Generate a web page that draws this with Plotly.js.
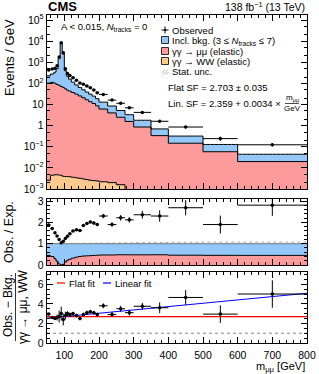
<!DOCTYPE html>
<html><head><meta charset="utf-8">
<script src="https://cdn.plot.ly/plotly-3.0.1.min.js"></script>
<style>html,body{margin:0;padding:0;background:#fff}#plot{width:319px;height:374px}</style>
</head><body><div id="plot"></div>
<script>
// ---- data ----
const binEdges = [50,60,70,76,82,88,94,100,106,112,120,130,140,150,160,170,180,190,200,225,250,275,300,350,400,500,600,800];
const observed = [432,482,517,680,1800,8320,2800,500,297,235,184,140,104,92.5,76,62.6,49,36,30,16.2,11.5,7.0,4.25,1.61,0.86,0.243,0.124];
const observedErr = [6.5,7,8,10,18,42,28,7.5,6,4.7,3.7,3.5,2.6,2.8,2.3,2.2,1.7,1.4,1.5,0.8,0.7,0.42,0.34,0.19,0.11,0.054,0.022];
const inclBkg = [127,168,238,410,1418,7928,2435,344,172,117,78,54,38.4,29,22.2,17.4,13.8,10.3,6.9,4.5,2.7,1.72,0.94,0.364,0.173,0.070,0.0242];
const elasticMuMu = [103,112,102,90,82,72,65,56,48,43,37,31,25.6,21,16.8,13.6,11.2,8.7,6.1,4.0,2.5,1.58,0.86,0.336,0.147,0.058,0.0198];
const elasticWW = [0.0026,0.0045,0.0047,0.0047,0.0046,0.0045,0.0040,0.0039,0.0039,0.0038,0.0036,0.0034,0.0032,0.0030,0.0028,0.0026,0.0025,0.0024,0.0022,0.0020,0.0016,0.0009,0.0006,0.0004,0.0003,0.0002,0.0001];
const statUncRel = [0.01,0.01,0.01,0.01,0.01,0.005,0.01,0.01,0.01,0.012,0.012,0.015,0.015,0.02,0.02,0.02,0.025,0.025,0.03,0.03,0.035,0.04,0.05,0.06,0.07,0.08,0.08];
const ratioObsExp = [1.88,1.72,1.52,1.36,1.2,1.04,1.12,1.25,1.35,1.47,1.6,1.65,1.62,1.85,1.95,2.02,1.97,1.9,2.3,1.9,2.22,2.12,2.36,2.3,2.69,1.9,2.81];
const ratioErr = [0.03,0.03,0.03,0.03,0.03,0.02,0.03,0.03,0.04,0.04,0.04,0.05,0.05,0.06,0.06,0.07,0.07,0.07,0.1,0.1,0.13,0.13,0.18,0.27,0.36,0.42,0.5];
const sfValues = [2.95,2.6,2.5,2.6,2.7,3.0,2.4,2.8,3.0,2.9,3.0,2.8,2.5,2.9,3.1,3.2,3.1,2.9,3.8,2.9,3.5,3.1,3.75,3.6,4.65,2.95,5.0];
const sfErr = [0.12,0.12,0.15,0.3,0.6,0.7,0.6,0.4,0.25,0.2,0.18,0.18,0.18,0.2,0.2,0.2,0.2,0.2,0.25,0.25,0.3,0.3,0.35,0.55,0.75,0.9,1.4];
const flatFitSF = [2.703];
const linearFitSF = [2.359, 0.0034];
const logTickVals = [1e-3,1e-2,1e-1,1,10,100,1e3,1e4,1e5];
const logTickText = ['10<sup>−3</sup>','10<sup>−2</sup>','10<sup>−1</sup>','1','10','10<sup>2</sup>','10<sup>3</sup>','10<sup>4</sup>','10<sup>5</sup>'];

// ---- derived ----
const centers = binEdges.slice(0,-1).map((e,i)=>(e+binEdges[i+1])/2);
const halfW = binEdges.slice(0,-1).map((e,i)=>(binEdges[i+1]-e)/2);
const stWW = elasticWW.slice();
const stSig = elasticWW.map((v,i)=>v+elasticMuMu[i]);
const stTot = stSig.map((v,i)=>v+inclBkg[i]);
const redFrac = stSig.map((v,i)=>v/stTot[i]);
const stepY = v => v.concat([v[v.length-1]]);
const ones = binEdges.map(()=>1);

const BLUE='#94c8fa', RED='#fd9a9b', ORANGE='#fdca8e';
const FONT='Liberation Sans, Arial, sans-serif';

// pixel helpers
const L=47,R=307,T=15,B=343;
const fx = p => (p-L)/(R-L);
const fy = p => (B-p)/(B-T);

const traces = [];
// top panel
traces.push({x:binEdges, y:binEdges.map(()=>1e-5), xaxis:'x3', yaxis:'y3', mode:'lines', line:{width:0,shape:'hv'}, hoverinfo:'skip', showlegend:false});
traces.push({x:binEdges, y:stepY(stWW), xaxis:'x3', yaxis:'y3', mode:'lines', fill:'tonexty', fillcolor:ORANGE, line:{color:'#000',width:1,shape:'hv'}, showlegend:false});
traces.push({x:binEdges, y:stepY(stSig), xaxis:'x3', yaxis:'y3', mode:'lines', fill:'tonexty', fillcolor:RED, line:{color:'#000',width:1,shape:'hv'}, showlegend:false});
traces.push({x:binEdges, y:stepY(stTot), xaxis:'x3', yaxis:'y3', mode:'lines', fill:'tonexty', fillcolor:BLUE, line:{color:'#000',width:1,shape:'hv'}, showlegend:false});
traces.push({x:binEdges, y:stepY(stTot.map((v,i)=>v*(1-statUncRel[i]))), xaxis:'x3', yaxis:'y3', mode:'lines', line:{width:0,shape:'hv'}, showlegend:false});
traces.push({x:binEdges, y:stepY(stTot.map((v,i)=>v*(1+statUncRel[i]))), xaxis:'x3', yaxis:'y3', mode:'lines', fill:'tonexty', fillcolor:'rgba(0,0,0,0)', fillpattern:{shape:'/',fgcolor:'#888',size:3,solidity:0.2}, line:{width:0,shape:'hv'}, showlegend:false});
traces.push({x:centers, y:observed, xaxis:'x3', yaxis:'y3', mode:'markers', marker:{color:'#000',size:3.5},
  error_y:{type:'data',array:observedErr,color:'#000',thickness:1,width:0},
  error_x:{type:'data',array:halfW,color:'#000',thickness:1,width:0}, showlegend:false});

// middle panel
traces.push({x:binEdges, y:stepY(redFrac), xaxis:'x2', yaxis:'y2', mode:'lines', fill:'tozeroy', fillcolor:RED, line:{color:'#000',width:1,shape:'hv'}, showlegend:false});
traces.push({x:binEdges, y:ones, xaxis:'x2', yaxis:'y2', mode:'lines', fill:'tonexty', fillcolor:BLUE, line:{color:'#555',width:0.8,shape:'hv'}, showlegend:false});
traces.push({x:binEdges, y:stepY(statUncRel.map(u=>1+u)), xaxis:'x2', yaxis:'y2', mode:'lines', line:{color:'#888',width:0.7,dash:'dot',shape:'hv'}, showlegend:false});
traces.push({x:centers, y:ratioObsExp, xaxis:'x2', yaxis:'y2', mode:'markers', marker:{color:'#000',size:3.5},
  error_y:{type:'data',array:ratioErr,color:'#000',thickness:1,width:0},
  error_x:{type:'data',array:halfW,color:'#000',thickness:1,width:0}, showlegend:false});

// bottom panel
const xr = [binEdges[0], binEdges[binEdges.length-1]];
traces.push({x:xr, y:[1,1], xaxis:'x', yaxis:'y', mode:'lines', line:{color:'#666',width:0.8,dash:'dot'}, showlegend:false});
traces.push({x:xr, y:[flatFitSF[0],flatFitSF[0]], xaxis:'x', yaxis:'y', mode:'lines', line:{color:'#ff0000',width:1.2}, showlegend:false});
traces.push({x:xr, y:xr.map(m=>linearFitSF[0]+linearFitSF[1]*m), xaxis:'x', yaxis:'y', mode:'lines', line:{color:'#0000ff',width:1.2}, showlegend:false});
traces.push({x:centers, y:sfValues, xaxis:'x', yaxis:'y', mode:'markers', marker:{color:'#000',size:3.5},
  error_y:{type:'data',array:sfErr,color:'#000',thickness:1,width:0},
  error_x:{type:'data',array:halfW,color:'#000',thickness:1,width:0}, showlegend:false});

const axCommon = {showline:true, linecolor:'#000', linewidth:1.2, mirror:'allticks', ticks:'inside', ticklen:6, tickcolor:'#000', showgrid:false, zeroline:false,
  tickfont:{family:FONT,size:10.5,color:'#000'}};
const xCommon = Object.assign({}, axCommon, {range:[50,800], tickvals:[100,200,300,400,500,600,700,800], minor:{ticks:'inside',ticklen:3,dtick:20,tick0:0,tickcolor:'#000'}});

const layout = {
  width:319, height:374, paper_bgcolor:'#fff', plot_bgcolor:'#fff',
  margin:{l:L, r:319-R, t:T, b:374-B}, showlegend:false,
  font:{family:FONT, color:'#000'},
  xaxis: Object.assign({}, xCommon, {anchor:'y', ticklabelstandoff:2}),
  xaxis2: Object.assign({}, xCommon, {anchor:'y2', matches:'x', showticklabels:false}),
  xaxis3: Object.assign({}, xCommon, {anchor:'y3', matches:'x', showticklabels:false}),
  yaxis: Object.assign({}, axCommon, {domain:[0, fy(272)], range:[0,7.25], tickvals:[0,2,4,6], minor:{ticks:'inside',ticklen:3,dtick:0.5,tickcolor:'#000'}}),
  yaxis2: Object.assign({}, axCommon, {domain:[fy(265), fy(199)], range:[0,3.1], tickvals:[0,1,2,3], minor:{ticks:'inside',ticklen:3,dtick:0.2,tickcolor:'#000'}}),
  yaxis3: Object.assign({}, axCommon, {domain:[fy(189), 1], type:'log', range:[-3,5.24], tickvals:logTickVals, ticktext:logTickText, minor:{ticks:'inside',ticklen:3,tickcolor:'#000'}}),
  shapes:[], annotations:[]
};

function ann(text, xp, yp, opts){
  layout.annotations.push(Object.assign({text:text, xref:'paper', yref:'paper', x:fx(xp), y:fy(yp), showarrow:false, xanchor:'left', yanchor:'middle', font:{family:FONT,size:9.5,color:'#000'}}, opts||{}));
}
function rect(x0,y0,x1,y1,fill){
  layout.shapes.push({type:'rect', xref:'paper', yref:'paper', x0:fx(x0), x1:fx(x1), y0:fy(y1), y1:fy(y0), fillcolor:fill, line:{color:'#000',width:0.8}});
}
function seg(x0,y0,x1,y1,color,w){
  layout.shapes.push({type:'line', xref:'paper', yref:'paper', x0:fx(x0), x1:fx(x1), y0:fy(y0), y1:fy(y1), line:{color:color,width:w}});
}

// header
ann('<b>CMS</b>', 46, 6, {font:{family:FONT,size:13,color:'#000'}});
ann('138 fb<sup>−1</sup> (13 TeV)', 307, 7, {xanchor:'right', font:{family:FONT,size:10.5,color:'#000'}});
ann('A &lt; 0.015, <i>N</i><sub>tracks</sub> = 0', 59, 27, {font:{family:FONT,size:9.5,color:'#000'}});

// legend
seg(165,26.5,165,33.5,'#000',1); seg(161.5,30,168.5,30,'#000',1);
layout.shapes.push({type:'circle', xref:'paper', yref:'paper', x0:fx(164), x1:fx(166), y0:fy(31), y1:fy(29), fillcolor:'#000', line:{width:0}});
ann('Observed', 170, 30);
rect(161.5,36.5,168.5,43.5,BLUE); ann('Incl. bkg. (3 ≤ <i>N</i><sub>tracks</sub> ≤ 7)', 170, 40.5);
rect(161.5,47.5,168.5,54.5,RED); ann('γγ → μμ (elastic)', 170, 51.2);
rect(161.5,57.5,168.5,64.5,ORANGE); ann('γγ → WW (elastic)', 170, 61.2);
seg(162,73,165,69.5,'#888',0.6); seg(163.5,74.5,168,69.5,'#888',0.6); seg(166,74.5,168.5,72,'#888',0.6);
ann('Stat. unc.', 170, 71.2);
ann('Flat SF = 2.703 ± 0.035', 166, 87.5);
ann('Lin. SF = 2.359 + 0.0034 ×', 166, 103.5);
ann('m<sub>μμ</sub>', 292, 98.5, {xanchor:'center', font:{family:FONT,size:8,color:'#000'}});
seg(285,103.5,299,103.5,'#000',0.7);
ann('GeV', 292, 108.5, {xanchor:'center', font:{family:FONT,size:8,color:'#000'}});

// bottom legend
seg(57,283,65,283,'#ff0000',1.2); ann('Flat fit', 67, 283);
seg(103,283,111,283,'#0000ff',1.2); ann('Linear fit', 113, 283);

// axis titles
ann('Events / GeV', 9, 58, {xanchor:'center', textangle:-90, font:{family:FONT,size:13,color:'#000'}});
ann('Obs. / Exp.', 9, 232, {xanchor:'center', textangle:-90, font:{family:FONT,size:12.5,color:'#000'}});
ann('Obs. − Bkg.', 8, 306, {xanchor:'center', textangle:-90, font:{family:FONT,size:12,color:'#000'}});
seg(15.5,273,15.5,341,'#000',0.8);
ann('γγ → μμ, WW', 23, 307, {xanchor:'center', textangle:-90, font:{family:FONT,size:12,color:'#000'}});
ann('m<sub>μμ</sub> [GeV]', 307, 367.3, {xanchor:'right', font:{family:FONT,size:11,color:'#000'}});

Plotly.newPlot('plot', traces, layout, {staticPlot:true, displayModeBar:false});
</script></body></html>
